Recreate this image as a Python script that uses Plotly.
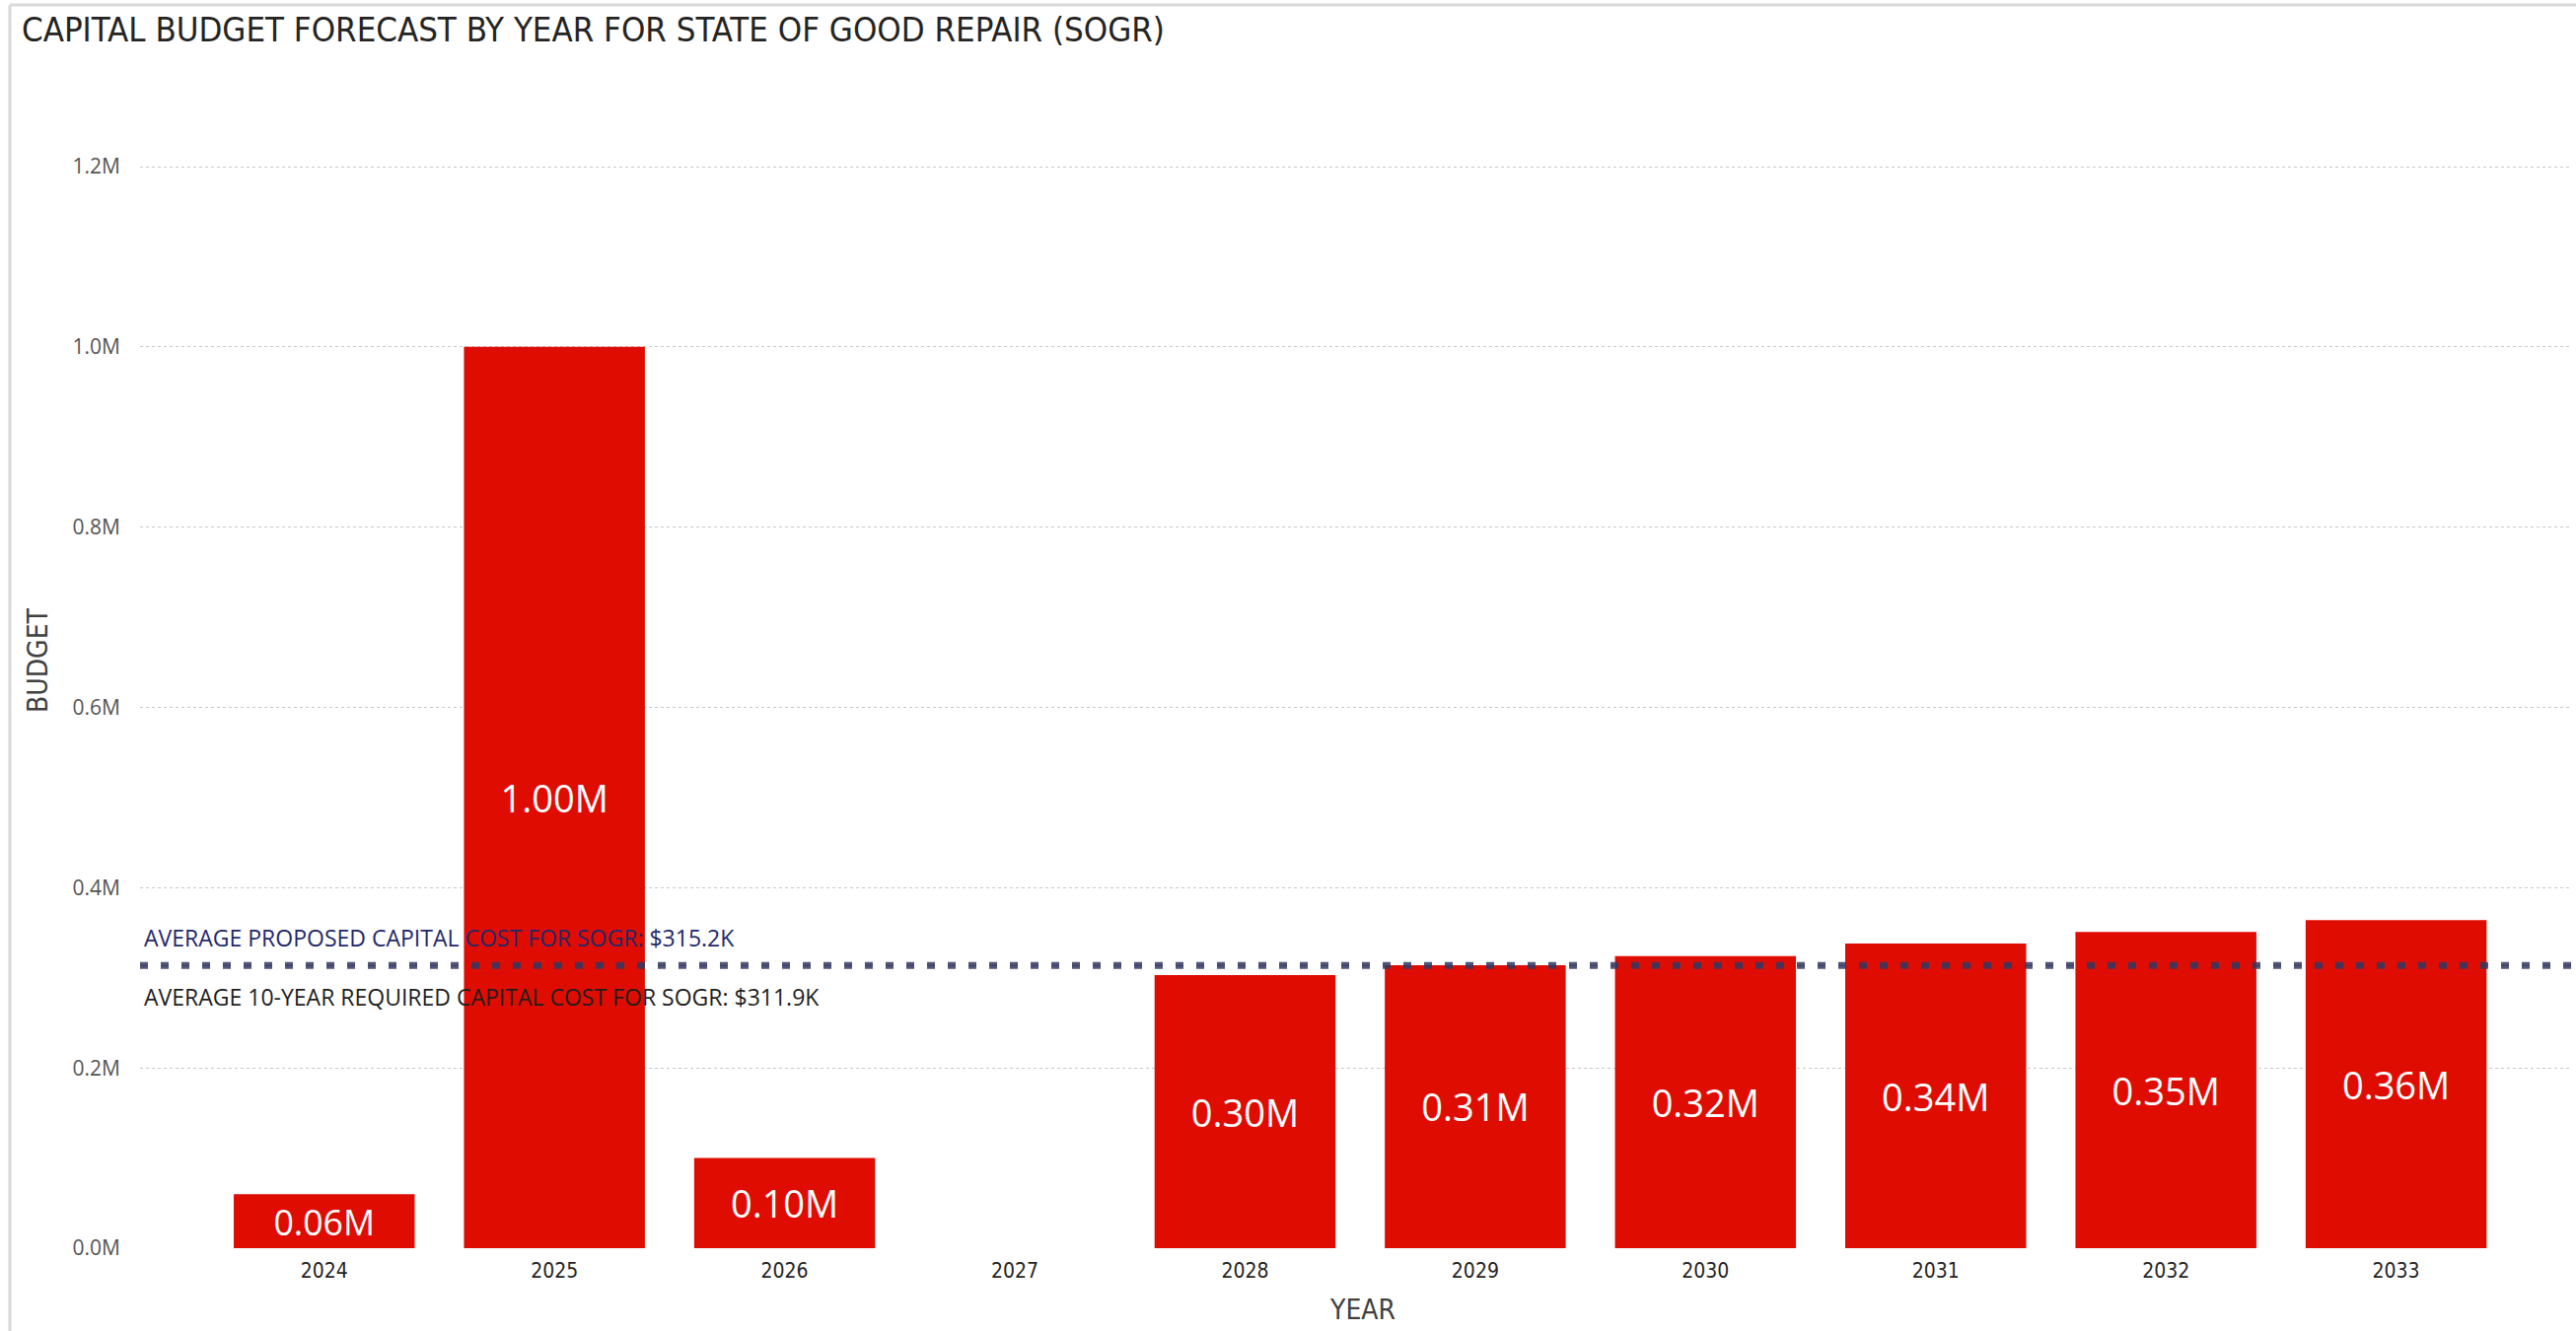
import plotly.graph_objects as go

years = ["2024", "2025", "2026", "2027", "2028", "2029", "2030", "2031", "2032", "2033"]
budget = [60000, 1000000, 100000, None, 303000, 314000, 324000, 338000, 351000, 364000]
avg_proposed = 315200
avg_required = 311900
ytick_vals = [0, 200000, 400000, 600000, 800000, 1000000, 1200000]
ytick_text = ["0.0M", "0.2M", "0.4M", "0.6M", "0.8M", "1.0M", "1.2M"]
title_text = "CAPITAL BUDGET FORECAST BY YEAR FOR STATE OF GOOD REPAIR (SOGR)"
label_proposed = "AVERAGE PROPOSED CAPITAL COST FOR SOGR: $315.2K"
label_required = "AVERAGE 10-YEAR REQUIRED CAPITAL COST FOR SOGR: $311.9K"
x_title = "YEAR"
y_title = "BUDGET"

W, H = 2612, 1350
L, R, T, B = 142, 5, 140, 84
pw, ph = W - L - R, H - T - B

def px_x(x):
    return (x - L) / pw

def px_y(y):
    return (H - B - y) / ph

labels = [f"{v/1e6:.2f}M" if v else "" for v in budget]

fig = go.Figure()
fig.add_trace(go.Bar(
    x=years, y=budget, text=labels,
    textposition="inside", insidetextanchor="middle", textangle=0,
    textfont=dict(family="Open Sans", size=38, color="white"),
    marker=dict(color="#DF0C02", line=dict(width=0)),
    hoverinfo="x+y", showlegend=False,
))

dot_color = "rgba(52,56,98,0.85)"
for v in (avg_proposed, avg_required):
    fig.add_shape(type="line", xref="paper", x0=0, x1=1, yref="y", y0=v, y1=v,
                  line=dict(color=dot_color, width=4, dash="8px,13px"))

fig.add_annotation(xref="paper", x=px_x(144), yref="y", y=avg_proposed, yshift=27,
                   xanchor="left", yanchor="middle", showarrow=False, text=label_proposed,
                   font=dict(family="Open Sans", size=23, color="#23286A"))
fig.add_annotation(xref="paper", x=px_x(144), yref="y", y=avg_required, yshift=-30,
                   xanchor="left", yanchor="middle", showarrow=False, text=label_required,
                   font=dict(family="Open Sans", size=23, color="#1E1E1E"))

# title and axis titles
fig.add_annotation(xref="paper", yref="paper", x=px_x(20), y=px_y(30),
                   xanchor="left", yanchor="middle", showarrow=False, text=title_text,
                   font=dict(family="DejaVu Sans Condensed", size=34.5, color="#252423"))
fig.add_annotation(xref="paper", yref="paper", x=px_x(1381), y=px_y(1328),
                   xanchor="center", yanchor="middle", showarrow=False, text=x_title,
                   font=dict(family="DejaVu Sans Condensed", size=28, color="#404040"))
fig.add_annotation(xref="paper", yref="paper", x=px_x(38), y=px_y(670),
                   xanchor="center", yanchor="middle", showarrow=False, text=y_title,
                   textangle=-90,
                   font=dict(family="DejaVu Sans Condensed", size=28, color="#404040"))

# visual border
fig.add_shape(type="line", xref="paper", yref="paper", x0=px_x(10), x1=px_x(10),
              y0=px_y(5), y1=px_y(1350), line=dict(color="#D8D8D8", width=3))
fig.add_shape(type="line", xref="paper", yref="paper", x0=px_x(10), x1=px_x(2612),
              y0=px_y(5), y1=px_y(5), line=dict(color="#D8D8D8", width=3))

fig.update_layout(
    width=W, height=H,
    margin=dict(l=L, r=R, t=T, b=B, autoexpand=False),
    paper_bgcolor="white", plot_bgcolor="white",
    bargap=0.214,
)
fig.update_xaxes(
    type="category", range=[-0.8, 9.76], automargin=False,
    showgrid=False, zeroline=False, showline=False, ticks="", ticklabelstandoff=8,
    tickfont=dict(family="DejaVu Sans Condensed", size=21, color="#252423"),
)
fig.update_yaxes(
    range=[0, 1200000 * ph / 1097], automargin=False,
    tickvals=ytick_vals, ticktext=ytick_text,
    showgrid=True, gridcolor="#C8C8C8", gridwidth=1, griddash="dot",
    zeroline=False, showline=False, ticks="", ticklabelstandoff=19,
    tickfont=dict(family="Open Sans", size=21, color="#555555"),
)

fig.write_html("out.html", config={"displayModeBar": False},
               post_script="document.body.style.margin='0';document.body.style.overflow='hidden';")
